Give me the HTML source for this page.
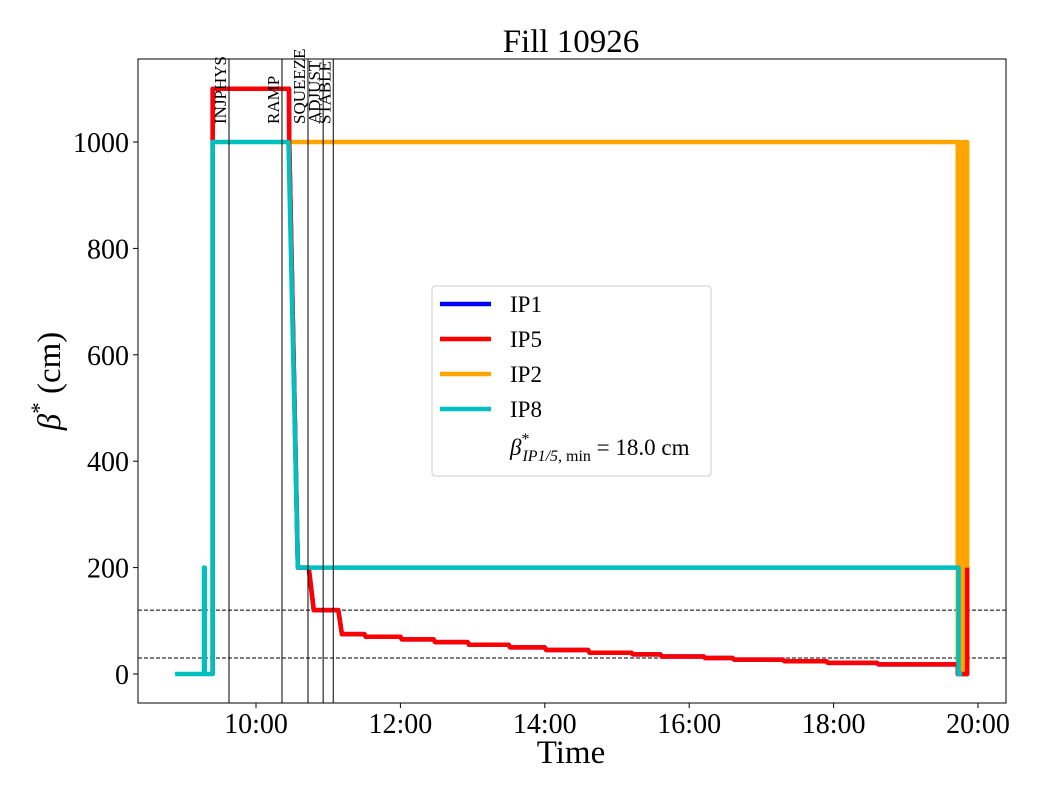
<!DOCTYPE html>
<html><head><meta charset="utf-8"><style>
body{margin:0;background:#fff}
svg text{font-family:"Liberation Serif",serif;fill:#000}
</style></head><body>
<svg id="chart" width="1040" height="800" viewBox="0 0 1040 800" xmlns="http://www.w3.org/2000/svg">
<rect width="1040" height="800" fill="#fff"/>
<text x="571" y="52" font-size="33" text-anchor="middle">Fill 10926</text>
<g id="plot"></g>
<text x="571" y="763" font-size="33" text-anchor="middle">Time</text>
<text transform="translate(60,381) rotate(-90)" font-size="33" text-anchor="middle"><tspan font-style="italic">β</tspan><tspan dy="-13" font-size="23">*</tspan><tspan dy="13"> (cm)</tspan></text>
</svg>
<script>
const yTicks=[0,200,400,600,800,1000];
const xTickHours=[10,12,14,16,18,20];
const xTickLabels=["10:00","12:00","14:00","16:00","18:00","20:00"];
const modeNames=["INJPHYS","RAMP","SQUEEZE","ADJUST","STABLE"];
const modeTimes=[9.626,10.36,10.72,10.93,11.07];
const refLevels=[120,30];
const ip8=[[8.88,0],[9.28,0],[9.28,200],[9.29,200],[9.29,0],[9.40,0],[9.40,1000],[10.45,1000],[10.58,200],[19.73,200],[19.73,0],[19.78,0]];
const ip2=[[10.45,1000],[19.72,1000],[19.72,0],[19.74,1000],[19.76,0],[19.78,1000],[19.80,0],[19.82,1000],[19.84,0],[19.85,1000],[19.85,0]];
const ip5=[[9.40,0],[9.40,1100],[10.457,1100],[10.46,1000],[10.58,200],[10.73,200],[10.80,120],[11.14,120],[11.19,75],[11.50,75],[11.52,70],[12.0,70],[12.02,65],[12.46,65],[12.48,60],[12.93,60],[12.95,55],[13.5,55],[13.52,50],[14.0,50],[14.02,45],[14.6,45],[14.62,40],[15.2,40],[15.22,37],[15.6,37],[15.62,33],[16.2,33],[16.22,30],[16.6,30],[16.62,27],[17.3,27],[17.32,24],[17.9,24],[17.92,21],[18.6,21],[18.62,18],[19.72,18],[19.72,0],[19.85,0],[19.85,200]];
const ip1=ip5;

const L=138,R=1006,T=59,B=703;
const xs=h=>256+(h-10)*72.2;
const ys=v=>674-v*0.532;
const NS="http://www.w3.org/2000/svg";
const g=document.getElementById('plot');
function mk(tag,attrs){const e=document.createElementNS(NS,tag);for(const k in attrs)e.setAttribute(k,attrs[k]);g.appendChild(e);return e;}

refLevels.forEach(v=>{
 const e=mk('line',{x1:L,x2:R,y1:ys(v),y2:ys(v),stroke:'#000','stroke-width':1,'stroke-dasharray':'4,2'});
 
 
});
function series(data,color,name,w){
 const e=mk('polyline',{points:data.map(p=>xs(p[0])+','+ys(p[1])).join(' '),fill:'none',stroke:color,'stroke-width':w,'stroke-linejoin':'round'});
 
 
}
series(ip1,'#0000ff','series-ip1',4.5);
series(ip2,'#ffa500','series-ip2',4.5);
series(ip5,'#ff0000','series-ip5',4.5);
series(ip8,'#00bfbf','series-ip8',4.5);
modeTimes.forEach((t,i)=>{
 const e=mk('line',{x1:xs(t),x2:xs(t),y1:T,y2:B,stroke:'#000','stroke-width':1});
 
 
 const tx=mk('text',{transform:`translate(${xs(t)-3},124) rotate(-90)`,'font-size':17});
 tx.textContent=modeNames[i];
 
 
});
const fr=mk('rect',{x:L,y:T,width:R-L,height:B-T,fill:'none',stroke:'#000','stroke-width':1});


yTicks.forEach(v=>{
 mk('line',{x1:L-5,x2:L,y1:ys(v),y2:ys(v),stroke:'#000'});
 const t=mk('text',{x:L-9,y:ys(v)+10,'font-size':28,'text-anchor':'end'});
 t.textContent=v;
 
 
});
xTickHours.forEach((h,i)=>{
 mk('line',{x1:xs(h),x2:xs(h),y1:B,y2:B+5,stroke:'#000'});
 const t=mk('text',{x:xs(h),y:B+30,'font-size':28,'text-anchor':'middle'});
 t.textContent=xTickLabels[i];
 
 
});
const lg=mk('rect',{x:432,y:286,width:279,height:190,rx:3,fill:'#fff',stroke:'#ccc'});


[['IP1','#0000ff'],['IP5','#ff0000'],['IP2','#ffa500'],['IP8','#00bfbf']].forEach((d,i)=>{
 const y=304+i*35;
 mk('line',{x1:440,x2:491,y1:y,y2:y,stroke:d[1],'stroke-width':4.5});
 const t=mk('text',{x:510,y:y+8,'font-size':23});
 t.textContent=d[0];
 
 
});
const bt=mk('text',{x:510,y:455,'font-size':23});
bt.innerHTML='<tspan font-style="italic">β</tspan><tspan font-size="16" dy="-11">*</tspan><tspan font-size="16" dy="17" dx="-7" font-style="italic">IP1/5,</tspan><tspan font-size="16"> min</tspan><tspan dy="-6"> = 18.0 cm</tspan>';


</script>
</body></html>
